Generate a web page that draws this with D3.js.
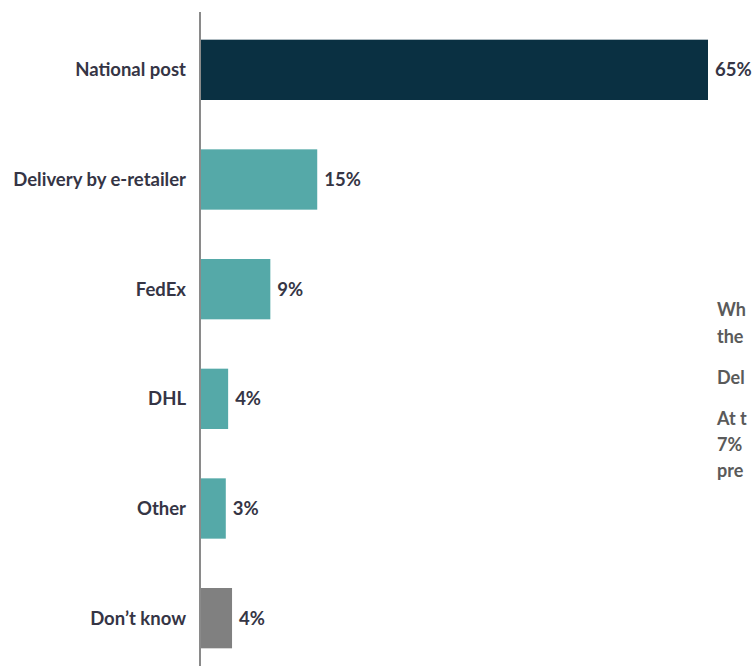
<!DOCTYPE html>
<html lang="en">
<head>
  <meta charset="utf-8">
  <title>Delivery providers</title>
  <style>
    body { margin: 0; background: #fff; }
    svg { display: block; }
    .cat, .val { font-family: Lato, "Open Sans", sans-serif; font-weight: 700; font-size: 18.5px; fill: #353545; }
    .note { font-family: Lato, "Open Sans", sans-serif; font-weight: 700; font-size: 18px; fill: #5a5a5a; }
  </style>
</head>
<body>
<svg class="canvas" width="752" height="666"></svg>
<script src="https://cdnjs.cloudflare.com/ajax/libs/d3/7.8.5/d3.min.js"></script>
<script>

// data
let categories = ["National post", "Delivery by e-retailer", "FedEx", "DHL", "Other", "Don\u2019t know"]
let values = [65, 15, 9, 3.6, 3.3, 4.1]
let valueLabels = ["65%", "15%", "9%", "4%", "3%", "4%"]
let barColors = ["#0a3042", "#55a9a8", "#55a9a8", "#55a9a8", "#55a9a8", "#808080"]

// side note, only its start is visible at the right edge
let noteLines = ["Wh", "the", "Del", "At t", "7%", "pre"]
let noteY = [316, 343, 384, 425, 451, 477]

let svg = d3.select(".canvas")

let x = d3.scaleLinear()
  .domain([0, 65])
  .range([200, 708])

let y = d3.scaleBand()
  .domain(categories)
  .range([15, 673])
  .paddingInner(0.45)
  .paddingOuter(0.225)

svg.selectAll("rect.bar").data(categories)
  .enter().append("rect")
    .attr("class", "bar")
    .attr("x", x(0))
    .attr("y", function(d) { return y(d) })
    .attr("width", function(d, i) { return x(values[i]) - x(0) })
    .attr("height", y.bandwidth())
    .attr("fill", function(d, i) { return barColors[i] })

// axis line
svg.append("line")
  .attr("x1", x(0)).attr("x2", x(0))
  .attr("y1", 12).attr("y2", 666)
  .attr("stroke", "#8a8a8a")
  .attr("stroke-width", 2)

svg.selectAll("text.cat").data(categories)
  .enter().append("text")
    .attr("class", "cat")
    .attr("x", 186)
    .attr("y", function(d) { return y(d) + y.bandwidth() / 2 })
    .attr("dy", "0.35em")
    .attr("text-anchor", "end")
    .text(function(d) { return d })

svg.selectAll("text.val").data(categories)
  .enter().append("text")
    .attr("class", "val")
    .attr("x", function(d, i) { return x(values[i]) + 7 })
    .attr("y", function(d) { return y(d) + y.bandwidth() / 2 })
    .attr("dy", "0.35em")
    .text(function(d, i) { return valueLabels[i] })

svg.selectAll("text.note").data(noteLines)
  .enter().append("text")
    .attr("class", "note")
    .attr("x", 717)
    .attr("y", function(d, i) { return noteY[i] })
    .text(function(d) { return d })

</script>
</body>
</html>
